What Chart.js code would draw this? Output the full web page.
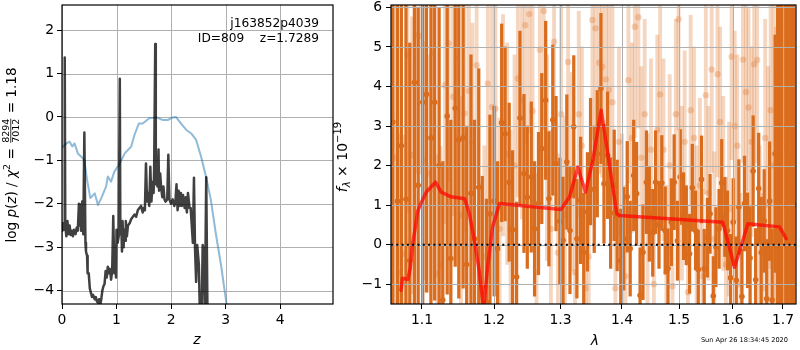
<!DOCTYPE html>
<html>
<head>
<meta charset="utf-8">
<script src="https://cdn.jsdelivr.net/npm/chart.js@4.4.0/dist/chart.umd.min.js"></script>
<style>
  body { margin: 0; background: #fff; width: 800px; height: 350px; overflow: hidden; position: relative; }
  canvas { position: absolute; top: 0; }
  #pz { left: 0; }
  #spec { left: 330px; }
</style>
</head>
<body>
<canvas id="pz" width="345" height="350"></canvas>
<canvas id="spec" width="470" height="350"></canvas>
<script>
// ---- left panel: log p(z) ----
const zDark = [
  0.00,0.02,0.04,0.05,0.06,0.08,0.10,0.12,0.14,0.16,
  0.18,0.20,0.22,0.25,0.27,0.29,0.31,0.33,0.34,0.35,
  0.37,0.39,0.41,0.43,0.44,0.46,0.47,0.49,0.51,0.53,
  0.55,0.57,0.60,0.62,0.64,0.66,0.68,0.70,0.72,0.74,
  0.76,0.78,0.80,0.82,0.84,0.86,0.88,0.90,0.92,0.94,
  0.96,0.98,0.99,1.00,1.02,1.04,1.06,1.07,1.09,1.10,
  1.11,1.13,1.14,1.16,1.17,1.19,1.21,1.24,1.27,1.30,
  1.33,1.36,1.39,1.42,1.45,1.48,1.50,1.52,1.54,1.56,
  1.58,1.60,1.62,1.64,1.66,1.68,1.69,1.71,1.72,1.74,
  1.75,1.77,1.78,1.80,1.82,1.84,1.86,1.88,1.90,1.93,
  1.95,1.97,2.00,2.03,2.06,2.08,2.10,2.12,2.14,2.16,
  2.18,2.20,2.22,2.25,2.27,2.29,2.31,2.34,2.36,2.38,
  2.40,2.42,2.44,2.46,2.48,2.51,2.53,2.56,2.58,2.60,
  2.62,2.645,2.67
];
const logPz = [
  -2.65,-2.45,-2.60,1.37,-2.50,-2.75,-2.40,-2.70,-2.50,-2.72,
  -2.62,-2.75,-2.60,-2.70,-2.55,-2.62,-2.00,-2.50,-2.02,-2.62,
  -1.95,-2.70,-0.36,-2.90,-3.10,-3.20,-3.60,-3.60,-3.95,-4.05,
  -4.15,-4.10,-4.20,-4.15,-4.25,-4.28,-4.20,-4.35,-4.20,-4.00,
  -3.90,-3.85,-3.55,-3.70,-3.45,-3.60,-3.50,-3.75,-3.55,-2.28,
  -3.60,-3.20,-3.70,-2.60,-2.90,-2.75,0.88,-2.70,-2.60,-3.10,
  -2.40,-3.00,-2.60,-2.85,-2.40,-2.75,-2.50,-2.45,-2.35,-2.30,
  -2.25,-2.30,-2.15,-2.10,-2.05,-2.20,-2.10,-2.15,-1.07,-1.95,
  -1.75,-2.05,-1.15,-1.95,-1.50,-1.75,-1.20,1.68,-1.55,-0.95,
  -1.60,-0.75,-1.70,-1.30,-1.65,-1.85,-1.60,-1.90,-1.95,-1.90,
  -0.87,-1.90,-2.00,-1.90,-2.05,-1.95,-1.55,-2.15,-1.70,-2.05,
  -1.75,-2.05,-1.80,-2.10,-1.85,-2.20,-1.75,-2.10,-2.10,-2.50,
  -2.90,-1.40,-3.05,-3.80,-2.95,-3.40,-4.60,-4.70,-2.95,-3.10,
  -4.50,-1.39,-4.80
];
const zChi = [
  0.00,0.02,0.08,0.14,0.19,0.23,0.29,0.35,0.41,0.46,
  0.52,0.60,0.66,0.72,0.81,0.84,0.90,0.96,1.06,1.15,
  1.27,1.33,1.41,1.48,1.60,1.73,1.85,1.94,2.03,2.09,
  2.18,2.28,2.37,2.46,2.55,2.64,2.73,2.82,2.92,3.01,
  3.07
];
const logChi = [
  -0.72,-0.68,-0.61,-0.57,-0.68,-0.61,-0.84,-0.91,-0.99,-1.45,
  -1.87,-1.76,-2.03,-1.87,-1.60,-1.37,-1.49,-1.26,-1.07,-0.84,
  -0.68,-0.41,-0.15,-0.15,-0.03,-0.01,-0.07,-0.07,-0.01,0.00,
  -0.15,-0.30,-0.38,-0.53,-0.91,-1.37,-1.91,-2.68,-3.44,-4.25,
  -4.67
];
const pzTickX = [0, 1, 2, 3, 4];
const pzTickY = [-4, -3, -2, -1, 0, 1, 2];
const PZ_X = [0, 4.97];
const PZ_Y = [-4.31, 2.58];

// ---- right panel: spectrum ----
const wavesA = [
  1.062,1.068,1.073,1.079,1.084,1.090,1.095,1.101,1.106,1.112,
  1.117,1.123,1.128,1.134,1.139,1.145,1.150,1.156,1.161,1.167,
  1.172,1.178,1.183,1.189,1.194,1.200,1.205,1.211,1.216,1.222,
  1.227,1.233,1.238,1.244,1.249,1.255,1.260,1.266,1.271,1.277,
  1.282,1.288,1.293,1.299,1.304,1.310,1.315,1.321,1.326,1.332,
  1.337,1.343,1.348,1.354,1.359,1.365,1.370,1.376,1.381,1.387,
  1.392,1.398,1.403,1.409,1.414,1.420,1.425,1.431,1.436,1.442,
  1.447,1.453,1.458,1.464,1.469,1.475,1.480,1.486,1.491,1.497,
  1.502,1.508,1.513,1.519,1.524,1.530,1.535,1.541,1.546,1.552,
  1.557,1.563,1.568,1.574,1.579,1.585,1.590,1.596,1.601,1.607,
  1.612,1.618,1.623,1.629,1.634,1.640,1.645,1.651,1.656,1.662,
  1.667,1.673,1.678,1.684,1.689,1.695,1.700,1.706,1.711,1.717,
  1.722
];
const fluxA = [
  3.10,1.10,2.50,1.15,-0.40,4.10,1.50,3.60,3.80,2.70,
  3.60,2.00,-1.40,3.25,-0.35,3.45,2.65,2.70,-0.50,1.30,
  0.15,1.45,-1.07,-1.45,0.78,1.10,-0.10,3.08,2.80,1.58,
  0.38,-0.82,3.20,1.80,1.20,1.71,0.40,1.04,2.43,3.65,
  1.16,3.15,2.05,0.59,0.11,2.09,0.36,2.98,0.15,1.12,
  -0.20,0.83,2.10,1.40,2.30,3.95,1.54,2.26,0.80,1.50,
  0.74,-0.40,0.15,1.21,-0.10,1.75,1.29,-1.28,-0.19,1.58,
  0.78,0.30,1.58,0.50,1.56,0.36,-0.60,0.57,1.58,0.10,
  1.71,0.72,0.49,-0.23,1.44,0.36,-0.63,1.65,-0.61,0.18,
  0.78,-1.30,-0.06,0.40,1.56,0.70,0.36,-0.84,0.57,-0.90,
  0.95,-1.31,1.04,0.11,-0.34,1.86,-0.89,1.42,-0.20,0.60,
  -1.37,1.10,-1.40,2.30,1.75,2.13,1.00,3.00,1.50,2.00,
  1.00
];
const errA = [
  7.5,7.0,6.5,6.0,5.5,6.0,4.5,5.5,5.0,4.5,
  5.0,4.0,3.5,4.5,3.5,4.0,4.0,3.8,3.5,3.5,
  3.0,3.0,2.8,2.6,2.5,2.4,2.2,2.5,2.2,2.0,
  2.0,1.9,2.2,2.0,1.8,1.9,1.7,1.8,1.9,2.0,
  1.7,1.9,1.7,1.6,1.6,1.7,1.6,1.8,1.5,1.6,
  1.5,1.5,1.6,1.6,1.6,1.9,1.5,1.6,1.4,1.4,
  1.4,1.3,1.3,1.4,1.2,1.4,1.3,1.2,1.2,1.3,
  1.2,1.1,1.3,1.1,1.2,1.1,1.0,1.1,1.2,1.0,
  1.2,1.1,1.0,1.0,1.1,1.0,1.0,1.1,1.0,1.0,
  1.0,1.0,1.0,1.0,1.1,1.0,1.0,1.1,1.1,1.1,
  1.2,1.2,1.2,1.2,1.3,1.4,1.3,1.4,1.4,1.3,
  1.5,1.5,1.8,3.0,4.5,6.0,8.0,9.0,9.0,10,
  10
];
const wavesB = [
  1.065,1.070,1.076,1.081,1.087,1.092,1.098,1.103,1.109,1.114,
  1.120,1.125,1.131,1.136,1.142,1.147,1.153,1.158,1.164,1.169,
  1.175,1.180,1.186,1.191,1.197,1.202,1.208,1.213,1.219,1.224,
  1.230,1.235,1.241,1.246,1.252,1.257,1.263,1.268,1.274,1.279,
  1.285,1.290,1.296,1.301,1.307,1.312,1.318,1.323,1.329,1.334,
  1.340,1.345,1.351,1.356,1.362,1.367,1.373,1.378,1.384,1.389,
  1.395,1.400,1.406,1.411,1.417,1.422,1.428,1.433,1.439,1.444,
  1.450,1.455,1.461,1.466,1.472,1.477,1.483,1.488,1.494,1.499,
  1.505,1.510,1.516,1.521,1.527,1.532,1.538,1.543,1.549,1.554,
  1.560,1.565,1.571,1.576,1.582,1.587,1.593,1.598,1.604,1.609,
  1.615,1.620,1.626,1.631,1.637,1.642,1.648,1.653,1.659,1.664,
  1.670,1.675,1.681,1.686,1.692,1.697,1.703,1.708,1.714,1.719,
  1.725
];
const fluxB = [
  2.20,-0.70,-0.23,4.80,2.26,5.30,5.28,2.13,1.80,4.84,
  -0.73,-0.52,4.03,5.09,3.74,4.71,0.74,3.32,3.89,2.60,
  4.54,-1.24,-0.30,4.07,3.48,3.44,0.40,3.02,2.30,0.40,
  2.00,4.20,3.65,5.55,5.83,3.38,-0.70,4.93,5.91,2.20,
  0.40,5.13,-0.20,3.30,0.75,4.62,1.85,-0.70,3.30,2.50,
  -1.10,-0.30,5.68,5.47,4.60,4.50,4.18,3.92,3.60,-1.10,
  2.60,0.40,-0.80,4.16,2.70,5.51,5.75,2.20,3.30,0.60,
  2.40,-1.00,2.90,3.80,2.40,-0.70,2.00,-1.05,3.30,5.70,
  1.30,2.60,-1.20,3.40,2.70,0.30,1.50,-0.80,3.78,1.30,
  4.43,0.15,4.31,3.10,1.55,-0.50,0.90,4.75,3.00,2.50,
  -1.00,4.68,3.86,3.47,2.60,4.56,4.67,0.20,-1.10,2.70,
  1.00,3.40,2.00,0.50,3.00,2.00,1.00,2.50,1.50,2.00,
  1.00
];
const errB = [
  4.0,3.5,3.0,4.0,3.5,3.5,3.5,3.0,3.0,3.5,
  3.0,3.0,3.5,3.5,3.0,3.5,3.0,3.0,3.0,3.0,
  3.0,2.8,2.8,3.0,3.0,3.0,2.8,2.8,2.8,2.5,
  2.8,3.0,3.0,3.0,3.0,3.0,2.5,3.0,3.0,2.6,
  2.5,3.0,2.5,2.8,2.5,3.0,2.5,2.5,2.6,2.5,
  2.5,2.4,3.0,3.0,2.8,2.8,2.6,2.6,2.6,2.4,
  2.4,2.4,2.3,2.6,2.4,2.8,2.8,2.3,2.4,2.2,
  2.3,2.2,2.4,2.5,2.3,2.2,2.3,2.2,2.4,2.8,
  2.2,2.3,2.2,2.4,2.3,2.2,2.2,2.2,2.5,2.2,
  2.6,2.2,2.6,2.4,2.2,2.2,2.2,2.6,2.4,2.3,
  2.3,2.6,2.5,2.5,2.4,2.6,2.6,2.3,2.4,3.0,
  3.5,4.0,4.5,5.0,5.0,5.0,5.0,5.0,5.0,5.0,
  5.0
];
const modelWave = [
  1.0725,1.0745,1.0815,1.0845,1.0875,1.0905,1.0945,1.0987,1.1058,1.1183,
  1.1258,1.1394,1.1581,1.1648,1.1718,1.1779,1.1849,1.1906,1.1978,1.2079,
  1.3007,1.3144,1.3274,1.3398,1.3517,1.3654,1.3763,1.3914,1.3959,1.5811,
  1.6036,1.6297,1.6930,1.7067
];
const modelFlux = [
  -1.15,-0.85,-0.88,-0.60,0.00,0.35,0.85,1.05,1.33,1.58,
  1.33,1.21,1.16,0.78,0.11,-0.57,-1.60,-0.57,0.45,1.04,
  0.89,1.21,1.96,1.33,2.13,3.40,2.30,0.78,0.74,0.57,
  -0.57,0.53,0.45,0.15
];
const specTickX = [1.1, 1.2, 1.3, 1.4, 1.5, 1.6, 1.7];
const specTickY = [-1, 0, 1, 2, 3, 4, 5, 6];
const SPEC_X = [1.0597, 1.727];
const SPEC_Y = [-1.5, 6.06];

Chart.defaults.font.family = 'DejaVu Sans';
Chart.defaults.font.size = 13.9;
Chart.defaults.color = '#000';
Chart.defaults.animation = false;

const DARK = 'rgb(218,108,30)';
const LIGHT = 'rgba(218,108,30,0.28)';
const GRID = '#b0b0b0';
const F = 'DejaVu Sans';

const tickGrid = { drawOnChartArea: false, color: 'rgba(0,0,0,0)', tickColor: '#000', tickLength: 5, tickWidth: 1 };
const fmt = v => String(v).replace('-', '\u2212');
function setTicks(values) { return scale => { scale.ticks = values.map(v => ({ value: v })); }; }
function boxSize(w, h) {
  return scale => {
    if (w) scale.width = w;
    if (h) scale.height = h;
    scale.paddingTop = 0; scale.paddingBottom = 0; scale.paddingLeft = 0; scale.paddingRight = 0;
  };
}
function pts(xs, ys) { return xs.map((x, i) => ({ x: x, y: ys[i] })); }

function drawGrid(chart, xs, ys) {
  const { ctx, chartArea: a, scales: { x, y } } = chart;
  ctx.save();
  ctx.strokeStyle = GRID;
  ctx.lineWidth = 1;
  ctx.beginPath();
  xs.forEach(v => { const p = Math.round(x.getPixelForValue(v)) + 0.5; ctx.moveTo(p, a.top); ctx.lineTo(p, a.bottom); });
  ys.forEach(v => { const p = Math.round(y.getPixelForValue(v)) + 0.5; ctx.moveTo(a.left, p); ctx.lineTo(a.right, p); });
  ctx.stroke();
  ctx.restore();
}
function drawFrame(chart) {
  const { ctx, chartArea: a } = chart;
  ctx.save();
  ctx.strokeStyle = '#000';
  ctx.lineWidth = 1.2;
  ctx.strokeRect(a.left, a.top, a.right - a.left, a.bottom - a.top);
  ctx.restore();
}
// text made of pieces (italic, sub/superscript, a stacked fraction)
function drawRich(ctx, x, y, parts, rotated) {
  ctx.save();
  ctx.translate(x, y);
  if (rotated) ctx.rotate(-Math.PI / 2);
  ctx.fillStyle = '#000';
  ctx.textBaseline = 'alphabetic';
  ctx.textAlign = 'left';
  let total = 0;
  parts.forEach(p => {
    ctx.font = p.font;
    p.w = p.frac ? Math.max(ctx.measureText(p.frac[0]).width, ctx.measureText(p.frac[1]).width) + 2
                 : ctx.measureText(p.text).width;
    total += p.w;
  });
  let cx = -total / 2;
  parts.forEach(p => {
    ctx.font = p.font;
    if (p.frac) {
      ctx.textAlign = 'center';
      ctx.fillText(p.frac[0], cx + p.w / 2, -7.5);
      ctx.fillText(p.frac[1], cx + p.w / 2, 2.5);
      ctx.fillRect(cx + 1, -5.6, p.w - 2, 0.8);
      ctx.textAlign = 'left';
    } else {
      ctx.fillText(p.text, cx, p.dy || 0);
    }
    cx += p.w;
  });
  ctx.restore();
}
function label(ctx, text, x, y, font, align) {
  ctx.save();
  ctx.fillStyle = '#000';
  ctx.font = font;
  ctx.textAlign = align;
  ctx.textBaseline = 'alphabetic';
  ctx.fillText(text, x, y);
  ctx.restore();
}

const pzDecor = {
  id: 'pzDecor',
  beforeDatasetsDraw(chart) { drawGrid(chart, pzTickX, pzTickY); },
  afterDraw(chart) {
    const ctx = chart.ctx;
    drawFrame(chart);
    label(ctx, 'j163852p4039', 319, 26.7, '12.2px ' + F, 'right');
    label(ctx, 'ID=809    z=1.7289', 319, 41.5, '12.2px ' + F, 'right');
    label(ctx, 'z', 197, 344, 'italic 14px ' + F, 'center');
    const N = '13.6px ' + F, I = 'italic 13.6px ' + F;
    drawRich(ctx, 16, 155, [
      { text: 'log ', font: N }, { text: 'p', font: I }, { text: '(', font: N }, { text: 'z', font: I },
      { text: ')', font: N }, { text: ' / ', font: N }, { text: '\u03c7', font: I },
      { text: '2', font: '9.5px ' + F, dy: -6 }, { text: ' = ', font: N },
      { frac: ['8294', '7012'], font: '9.5px ' + F }, { text: ' = 1.18', font: N }
    ], true);
  }
};

new Chart(document.getElementById('pz'), {
  type: 'line',
  data: {
    datasets: [
      { data: pts(zDark, logPz), borderColor: 'rgba(0,0,0,0.75)', borderWidth: 2.5, pointRadius: 0,
        borderJoinStyle: 'round', clip: 0 },
      { data: pts(zChi, logChi), borderColor: 'rgba(31,119,180,0.5)', borderWidth: 2, pointRadius: 0,
        borderJoinStyle: 'round', clip: 0 }
    ]
  },
  options: {
    responsive: false,
    layout: { padding: { top: 5, right: 12, left: 0, bottom: 0 } },
    plugins: { legend: { display: false }, tooltip: { enabled: false } },
    scales: {
      x: { type: 'linear', min: PZ_X[0], max: PZ_X[1], offset: false, grid: tickGrid, border: { display: false },
           ticks: { padding: 3, autoSkip: false, maxRotation: 0, callback: fmt },
           afterBuildTicks: setTicks(pzTickX), afterFit: boxSize(0, 46) },
      y: { type: 'linear', min: PZ_Y[0], max: PZ_Y[1], grid: tickGrid, border: { display: false },
           ticks: { padding: 3, autoSkip: false, callback: fmt },
           afterBuildTicks: setTicks(pzTickY), afterFit: boxSize(62, 0) }
    }
  },
  plugins: [pzDecor]
});

const specDecor = {
  id: 'specDecor',
  afterDatasetDraw(chart, args) {
    if (args.index === 2) drawGrid(chart, specTickX, specTickY);
  },
  afterDraw(chart) {
    const ctx = chart.ctx;
    drawFrame(chart);
    label(ctx, '\u03bb', 595 - 330, 345, 'italic 14px ' + F, 'center');
    label(ctx, 'Sun Apr 26 18:34:45 2020', 788 - 330, 341.5, '6.6px ' + F, 'right');
    drawRich(ctx, 17, 157, [
      { text: 'f', font: 'italic 14px ' + F }, { text: '\u03bb', font: 'italic 10px ' + F, dy: 3 },
      { text: ' \u00d7 10', font: '14px ' + F }, { text: '\u221219', font: '10px ' + F, dy: -6 }
    ], true);
  }
};

new Chart(document.getElementById('spec'), {
  type: 'line',
  data: {
    datasets: [
      { data: [{ x: SPEC_X[0], y: 0 }, { x: SPEC_X[1], y: 0 }], borderColor: '#000', borderWidth: 2,
        borderDash: [2, 3.3], pointRadius: 0, clip: 0 },
      { data: pts(modelWave, modelFlux), borderColor: 'rgba(255,0,0,0.7)', borderWidth: 3.5, pointRadius: 0,
        borderJoinStyle: 'round', borderCapStyle: 'round', clip: 0 },
      { data: pts(wavesA, fluxA), showLine: false, pointRadius: 2.8, pointBorderWidth: 0,
        pointBackgroundColor: DARK, clip: 0 },
      { type: 'bar', data: wavesA.map((w, i) => ({ x: w, y: [fluxA[i] - errA[i], fluxA[i] + errA[i]] })),
        backgroundColor: DARK, barThickness: 2.6, grouped: false, borderWidth: 0, clip: 0 },
      { data: pts(wavesB, fluxB), showLine: false, pointRadius: 3.2, pointBorderWidth: 0,
        pointBackgroundColor: LIGHT, clip: 0 },
      { type: 'bar', data: wavesB.map((w, i) => ({ x: w, y: [fluxB[i] - errB[i], fluxB[i] + errB[i]] })),
        backgroundColor: LIGHT, barThickness: 3.2, grouped: false, borderWidth: 0, clip: 0 }
    ]
  },
  options: {
    responsive: false,
    layout: { padding: { top: 5, right: 3, left: 0, bottom: 0 } },
    plugins: { legend: { display: false }, tooltip: { enabled: false } },
    scales: {
      x: { type: 'logarithmic', min: SPEC_X[0], max: SPEC_X[1], offset: false,
           grid: Object.assign({ offset: false }, tickGrid), border: { display: false },
           ticks: { padding: 3, autoSkip: false, maxRotation: 0, callback: v => Number(v).toFixed(1) },
           afterBuildTicks: setTicks(specTickX), afterFit: boxSize(0, 46) },
      y: { type: 'linear', min: SPEC_Y[0], max: SPEC_Y[1], grid: tickGrid, border: { display: false },
           ticks: { padding: 4, autoSkip: false, callback: fmt },
           afterBuildTicks: setTicks(specTickY), afterFit: boxSize(61, 0) }
    }
  },
  plugins: [specDecor]
});
</script>
</body>
</html>
